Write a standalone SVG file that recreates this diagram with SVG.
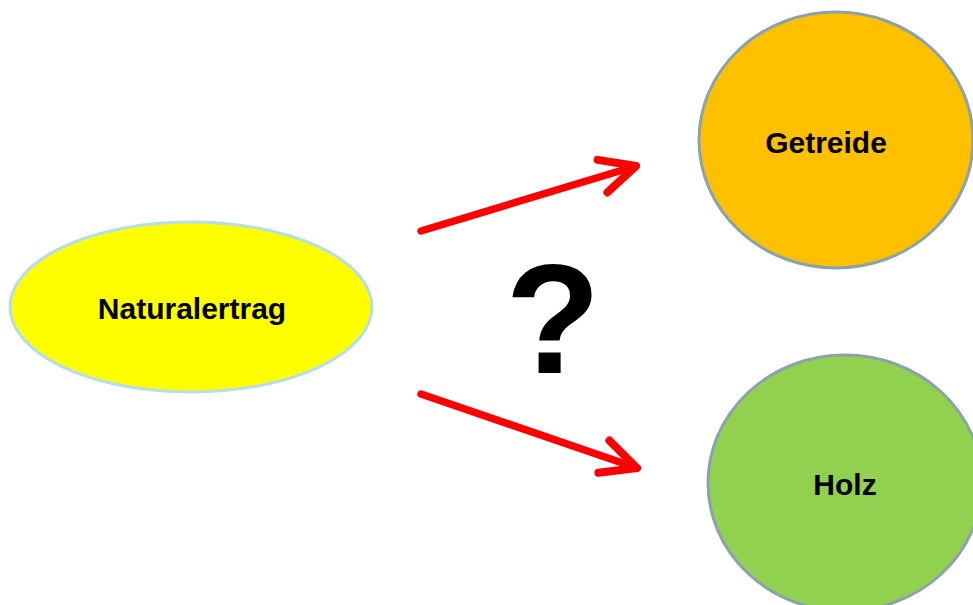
<svg xmlns="http://www.w3.org/2000/svg" width="973" height="605" viewBox="0 0 973 605">
<style>
.lbl{font-family:"Liberation Sans",Arial,sans-serif;font-weight:bold;font-size:30px;fill:#000;text-anchor:middle}
.conn{stroke:#ff0000;stroke-width:7.5;fill:none;stroke-linecap:round;stroke-linejoin:round}
.circ{stroke:#8aa3ab;stroke-width:3}
</style>
<defs>
<marker id="arr" markerUnits="userSpaceOnUse" orient="auto" refX="0" refY="0" markerWidth="10" markerHeight="10" overflow="visible">
<path d="M-35,-17 L0,0 L-35,17" fill="none" stroke="#ff0000" stroke-width="8" stroke-linecap="round" stroke-linejoin="round"/>
</marker>
</defs>
<rect width="973" height="605" fill="#ffffff"/>
<g id="naturalertrag">
<ellipse cx="191" cy="307" rx="181" ry="85" fill="#ffff00" stroke="#b7dde8" stroke-width="3"/>
<text class="lbl" x="192" y="319">Naturalertrag</text>
</g>
<g id="getreide">
<ellipse class="circ" cx="836" cy="140" rx="137" ry="128" fill="#ffc000"/>
<text class="lbl" x="826" y="153">Getreide</text>
</g>
<g id="holz">
<ellipse class="circ" cx="845" cy="483" rx="137" ry="128" fill="#92d050"/>
<text class="lbl" x="845" y="495">Holz</text>
</g>
<g id="connectors">
<line class="conn" x1="421" y1="231" x2="636" y2="166" marker-end="url(#arr)"/>
<line class="conn" x1="421" y1="394" x2="637" y2="468" marker-end="url(#arr)"/>
</g>
<text x="553" y="373" font-family="Liberation Sans, Arial, sans-serif" font-weight="bold" font-size="156" text-anchor="middle" fill="#000">?</text>
</svg>
